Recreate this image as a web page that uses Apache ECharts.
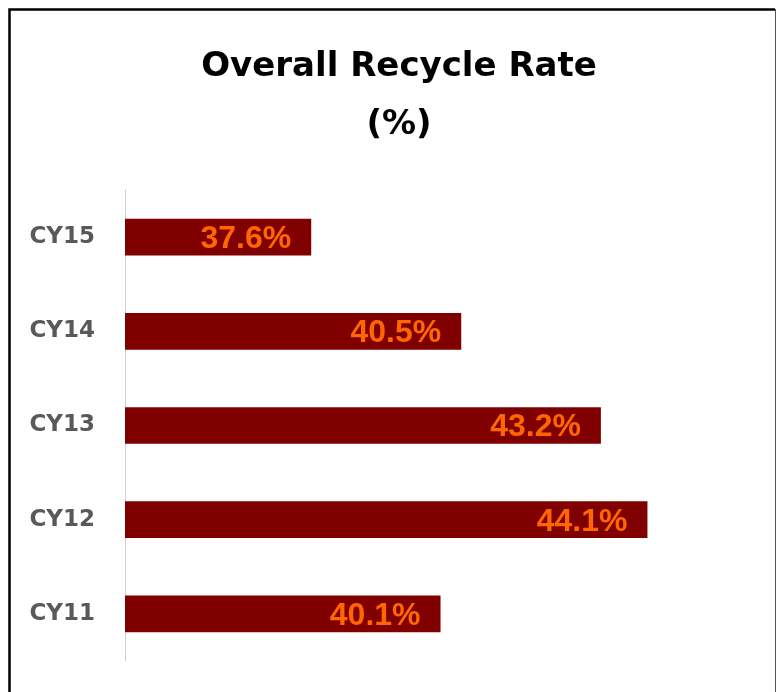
<!DOCTYPE html>
<html>
<head>
<meta charset="utf-8">
<script src="https://cdn.jsdelivr.net/npm/echarts@6/dist/echarts.min.js"></script>
<style>
  html, body { margin: 0; padding: 0; background: #fff; }
  #chart { width: 777px; height: 692px; }
</style>
</head>
<body>
<div id="chart"></div>
<script>
// categories bottom-to-top (ECharts category y axis starts at the bottom)
const categories = ['CY11', 'CY12', 'CY13', 'CY14', 'CY15'];
const recycleRate = [40.1, 44.1, 43.2, 40.5, 37.6];
const titleLines = ['Overall Recycle Rate', '(%)'];

const chart = echarts.init(document.getElementById('chart'));

const option = {
  backgroundColor: '#fff',
  animation: false,
  title: {
    text: titleLines.join('\n'),
    left: 394,
    top: 33,
    textAlign: 'center',
    textStyle: {
      fontFamily: 'DejaVu Sans',
      fontWeight: 'bold',
      fontSize: 34,
      lineHeight: 58,
      color: '#000'
    }
  },
  graphic: [
    // outer frame: heavy black top/left, thin grey right
    {
      type: 'polyline',
      shape: { points: [[9.5, 700], [9.5, 9.5], [775, 9.5]] },
      style: { fill: 'none', stroke: '#000', lineWidth: 2.5 },
      silent: true
    },
    {
      type: 'line',
      shape: { x1: 775.5, y1: 9, x2: 775.5, y2: 700 },
      style: { stroke: '#555', lineWidth: 1 },
      silent: true
    }
  ],
  grid: {
    left: 125,
    right: 83,
    top: 190,
    bottom: 31
  },
  xAxis: {
    type: 'value',
    min: 34,
    max: 45,
    show: false
  },
  yAxis: {
    type: 'category',
    data: categories,
    axisLine: { show: true, lineStyle: { color: '#d0d0d0', width: 1 } },
    axisTick: { show: false },
    axisLabel: {
      margin: 30,
      fontFamily: 'DejaVu Sans',
      fontWeight: 'bold',
      fontSize: 23,
      color: '#595959'
    }
  },
  series: [
    {
      type: 'bar',
      data: recycleRate,
      barWidth: '39%',
      itemStyle: { color: '#800000' },
      label: {
        show: true,
        position: 'insideRight',
        distance: 20,
        formatter: p => p.value.toFixed(1) + '%',
        fontFamily: 'Liberation Sans, Arial',
        fontWeight: 'bold',
        fontSize: 32,
        color: '#ff6600',
        offset: [0, 2]
      }
    }
  ]
};

chart.setOption(option);
</script>
</body>
</html>
